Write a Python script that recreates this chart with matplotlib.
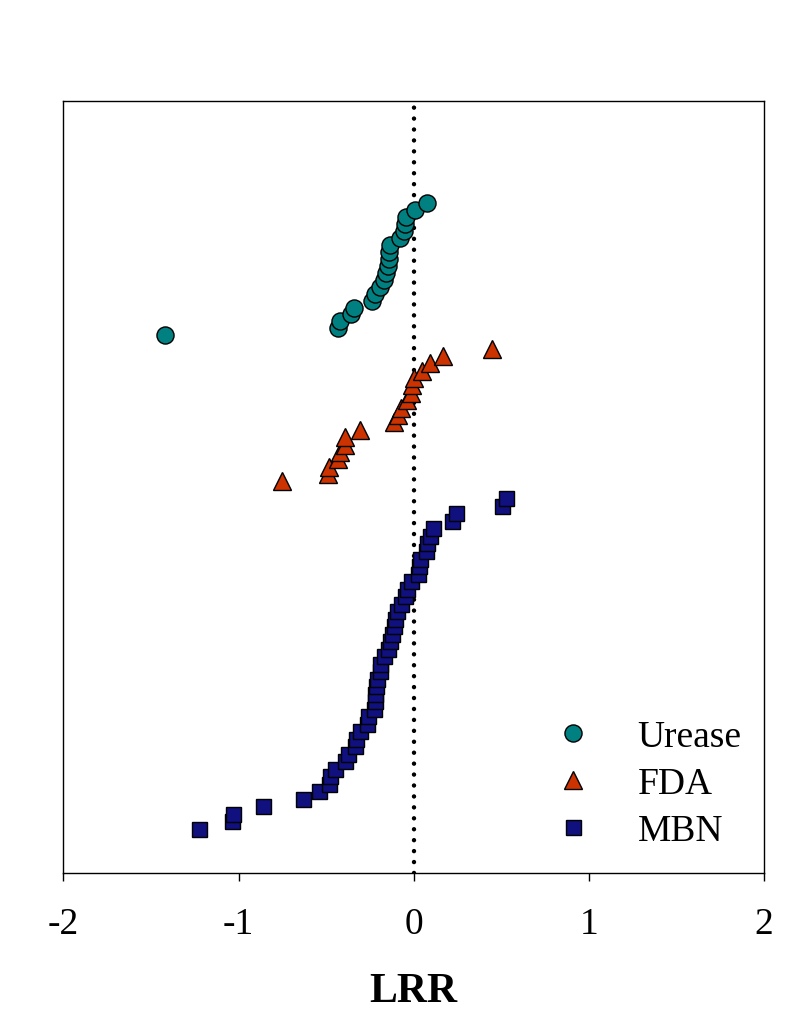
import numpy as np
import matplotlib
matplotlib.use("Agg")
import matplotlib.pyplot as plt

plt.rcParams['font.family'] = ['Liberation Serif', 'DejaVu Serif']
plt.rcParams['axes.unicode_minus'] = False

# LRR values per group, sorted ascending
urease = [-1.419, -0.432, -0.419, -0.356, -0.343, -0.238, -0.219, -0.190, -0.170, -0.156,
          -0.149, -0.143, -0.141, -0.133, -0.076, -0.057, -0.051, -0.046, 0.010, 0.078]
fda = [-0.753, -0.490, -0.486, -0.432, -0.423, -0.394, -0.390, -0.309, -0.112, -0.090,
       -0.070, -0.036, -0.017, -0.008, 0.000, 0.050, 0.095, 0.168, 0.447]
mbn = [-1.223, -1.038, -1.029, -0.861, -0.629, -0.541, -0.486, -0.480, -0.451, -0.394,
       -0.375, -0.337, -0.328, -0.309, -0.267, -0.261, -0.229, -0.223, -0.223, -0.217,
       -0.210, -0.194, -0.194, -0.171, -0.147, -0.133, -0.122, -0.112, -0.105, -0.095,
       -0.070, -0.051, -0.036, -0.017, 0.025, 0.029, 0.034, 0.069, 0.078, 0.091,
       0.110, 0.221, 0.244, 0.505, 0.530]

# vertical band (rank axis, 0-100) each group occupies
urease_band = (69.6, 86.8)
fda_band = (50.7, 67.9)
mbn_band = (5.7, 48.5)

xticks = [-2, -1, 0, 1, 2]

fig = plt.figure(figsize=(8.05, 10.12), dpi=100)
ax = fig.add_axes([0.0787, 0.1364, 0.8703, 0.7631])


def rank_y(vals, band):
    return np.linspace(band[0], band[1], len(vals))


ax.plot([0, 0], [0, 100], color='black', lw=3.2, linestyle=(0, (0.01, 2.45)),
        dash_capstyle='round', zorder=1)

ax.plot(urease, rank_y(urease, urease_band), 'o', ms=12.3, mfc='#008080', mec='black',
        mew=1.0, label='Urease', zorder=3)
ax.plot(fda, rank_y(fda, fda_band), '^', ms=13, mfc='#CC3300', mec='black',
        mew=1.0, label='FDA', zorder=3)
ax.plot(mbn, rank_y(mbn, mbn_band), 's', ms=10.8, mfc='#10107F', mec='black',
        mew=1.0, label='MBN', zorder=3)

ax.set_xlim(-2, 2)
ax.set_ylim(0, 100)
ax.set_xticks(xticks)
ax.set_xticklabels([str(t) for t in xticks])
ax.tick_params(axis='x', direction='out', length=6, width=1, labelsize=27, pad=18.5)
ax.set_yticks([])
for s in ax.spines.values():
    s.set_linewidth(1.0)

ax.set_xlabel('LRR', fontsize=30, fontweight='bold', labelpad=22)

ax.legend(loc='lower right', bbox_to_anchor=(1.0, 0.003), frameon=False, fontsize=27,
          handletextpad=0.96, labelspacing=0.34, borderaxespad=0.2, handlelength=1.5)

fig.savefig('out.png', dpi=100)
